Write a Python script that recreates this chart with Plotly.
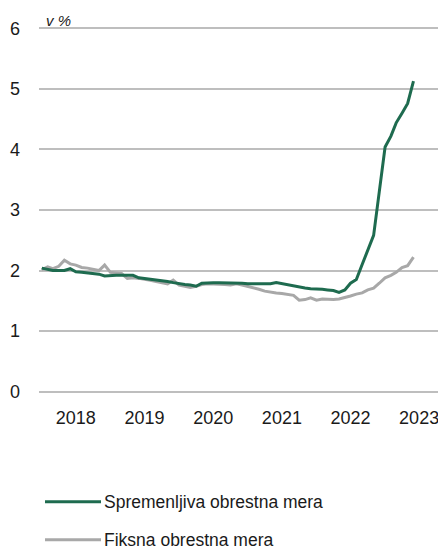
import pandas as pd
import plotly.graph_objects as go

# monthly data, Jan 2018 - Jun 2023 (v %)
months = pd.date_range("2018-01-01", periods=66, freq="MS")

spremenljiva = [
    2.04, 2.02, 2.00, 2.00, 2.00, 2.03, 1.98, 1.97, 1.96, 1.95, 1.94, 1.91,
    1.92, 1.92, 1.92, 1.92, 1.92, 1.88, 1.87, 1.85, 1.84, 1.83, 1.82, 1.80,
    1.78, 1.77, 1.76, 1.74, 1.79, 1.80, 1.80, 1.80, 1.80, 1.79, 1.79, 1.79,
    1.78, 1.78, 1.78, 1.78, 1.78, 1.80, 1.78, 1.76, 1.75, 1.72, 1.71, 1.70,
    1.70, 1.69, 1.68, 1.67, 1.64, 1.68, 1.79, 1.85, 2.10, 2.35, 2.58, 3.30,
    4.04, 4.22, 4.44, 4.60, 4.76, 5.13,
]

fiksna = [
    2.01, 2.06, 2.03, 2.07, 2.17, 2.11, 2.09, 2.05, 2.04, 2.02, 2.00, 2.09,
    1.97, 1.96, 1.95, 1.87, 1.88, 1.87, 1.86, 1.84, 1.82, 1.80, 1.78, 1.84,
    1.76, 1.74, 1.72, 1.74, 1.77, 1.78, 1.78, 1.78, 1.77, 1.76, 1.78, 1.76,
    1.74, 1.72, 1.69, 1.66, 1.64, 1.63, 1.62, 1.61, 1.59, 1.51, 1.52, 1.55,
    1.51, 1.53, 1.52, 1.52, 1.53, 1.55, 1.58, 1.61, 1.63, 1.68, 1.71, 1.79,
    1.88, 1.92, 1.97, 2.05, 2.08, 2.22,
]

year_labels = ["2018", "2019", "2020", "2021", "2022", "2023"]
year_ticks = [f"{y}-07-01" for y in year_labels]

green = "#1E6B4F"
grey = "#A8A8A8"
font_name = "Liberation Sans, Arial"

fig = go.Figure()
# grey first so the green line sits on top
fig.add_trace(go.Scatter(x=months, y=fiksna, mode="lines",
                         name="Fiksna obrestna mera",
                         line=dict(color=grey, width=3)))
fig.add_trace(go.Scatter(x=months, y=spremenljiva, mode="lines",
                         name="Spremenljiva obrestna mera",
                         line=dict(color=green, width=3)))

# page body has an 8px margin, so the figure is 8px smaller each way
# y range padded a little so the 0 and 6 gridlines are still drawn
fig.update_layout(
    width=438, height=540,
    margin=dict(l=31, r=0, t=18, b=154),
    plot_bgcolor="white", paper_bgcolor="white",
    showlegend=False,
    font=dict(family=font_name, size=18, color="#1A1A1A"),
)
fig.update_xaxes(
    range=["2017-12-17", "2023-11-21"],
    tickvals=year_ticks, ticktext=year_labels,
    showgrid=False, zeroline=False, showline=False, ticks="",
    ticklabelstandoff=11,
)
fig.update_yaxes(
    range=[-0.04, 6.04], dtick=1,
    showgrid=True, gridcolor="#BEBEBE", gridwidth=1.5,
    zeroline=False, showline=False, ticks="",
    ticklabelstandoff=18,
)

# unit label
fig.add_annotation(text="<i>v %</i>", xref="paper", yref="paper",
                   x=0.013, y=0.993, xanchor="left", yanchor="bottom",
                   yshift=-2, showarrow=False, font=dict(size=15))

# legend drawn by hand (longer line samples)
legend_items = [("Spremenljiva obrestna mera", green, -0.293),
                ("Fiksna obrestna mera", grey, -0.396)]
for label, col, yp in legend_items:
    fig.add_shape(type="line", xref="paper", yref="paper",
                  x0=(45 - 39) / 407, x1=(101 - 39) / 407, y0=yp, y1=yp,
                  line=dict(color=col, width=3))
    fig.add_annotation(text=label, xref="paper", yref="paper",
                       x=(102 - 39) / 407, y=yp, xanchor="left", yanchor="middle",
                       showarrow=False, font=dict(size=17.5))

fig.write_html("out.html")
